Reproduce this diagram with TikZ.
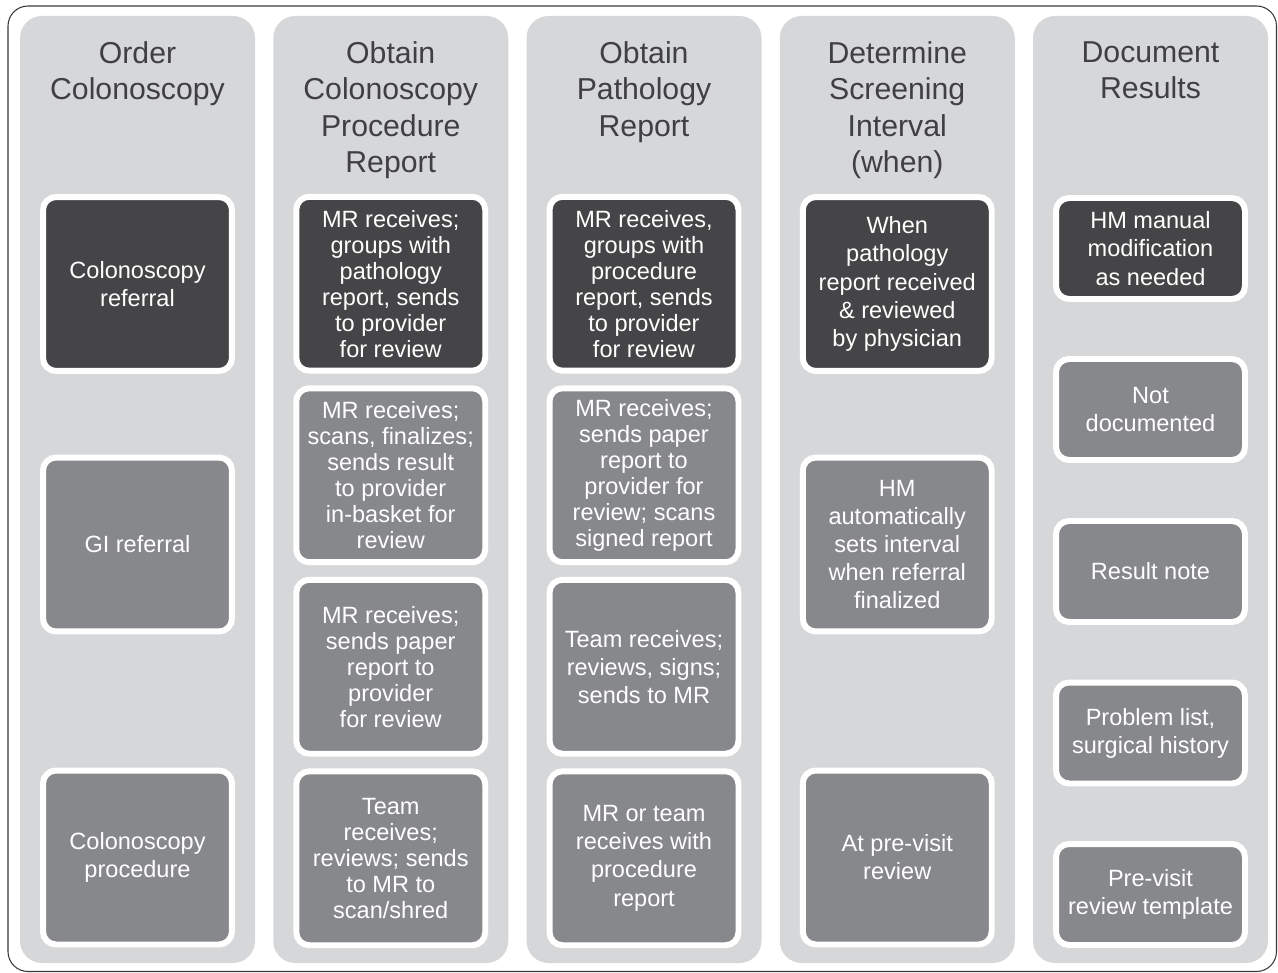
\documentclass[tikz,border=0pt]{standalone}
\usepackage{fontspec}
\setmainfont{Liberation Sans}
\usetikzlibrary{positioning}
\definecolor{lanegray}{HTML}{D6D7D9}
\definecolor{darkbox}{HTML}{454547}
\definecolor{midbox}{HTML}{87888B}
\definecolor{titlegray}{HTML}{404042}
\definecolor{framegray}{HTML}{3A3A3A}

\tikzset{
  lane/.style={fill=lanegray, rounded corners=0.44cm},
  lanetitle/.style={anchor=north, inner sep=0pt, align=center, text=titlegray,
    font=\fontsize{17.2}{20.8}\selectfont},
  stepbox/.style={draw=white, line width=3.4pt, rounded corners=0.26cm, text=white,
    align=center, minimum width=3.78cm, minimum height=3.48cm, inner sep=2pt,
    font=\fontsize{13.4}{16}\selectfont},
  darkbox/.style={stepbox, fill=darkbox},
  midbox/.style={stepbox, fill=midbox},
  dense/.style={font=\fontsize{13.4}{14.8}\selectfont},
  short/.style={minimum height=2.02cm}
}

\begin{document}
\begin{tikzpicture}[x=0.02cm, y=-0.02cm]
\useasboundingbox (0,0) rectangle (1278,973);
\draw[framegray, line width=0.6pt, rounded corners=0.4cm] (8,6) rectangle (1276.5,971.5);
% lanes
\foreach \c in {0,...,4}
    \fill[lane] ({20+253.25*\c},16) rectangle ++(235,947);

% lane titles
\node[lanetitle] (order) at (137.5,41) {Order\\Colonoscopy};
\node[lanetitle] (procrep) at (390.75,41) {Obtain\\Colonoscopy\\Procedure\\Report};
\node[lanetitle] (pathrep) at (644,41) {Obtain\\Pathology\\Report};
\node[lanetitle] (interval) at (897.25,41) {Determine\\Screening\\Interval\\(when)};
\node[lanetitle] (docres) at (1150.5,41) {Document\\Results};

% order colonoscopy
\node[darkbox] (ord1) at (137.5,284) {Colonoscopy\\referral};
\node[midbox] (ord2) at (137.5,544.5) {GI referral};
\node[midbox] (ord3) at (137.5,857.5) {Colonoscopy\\procedure};

% procedure report
\node[darkbox, dense] (proc1) at (390.75,283.75) {MR receives;\\groups with\\pathology\\report, sends\\to provider\\for review};
\node[midbox, dense] (proc2) at (390.75,475.25) {MR receives;\\scans, finalizes;\\sends result\\to provider\\in-basket for\\review};
\node[midbox, dense] (proc3) at (390.75,666.75) {MR receives;\\sends paper\\report to\\provider\\for review};
\node[midbox, dense] (proc4) at (390.75,858.25) {Team\\receives;\\reviews; sends\\to MR to\\scan/shred};

% pathology report
\node[darkbox, dense] (path1) at (644,283.75) {MR receives,\\groups with\\procedure\\report, sends\\to provider\\for review};
\node[midbox, dense] (path2) at (644,475.25) {MR receives;\\sends paper\\report to\\provider for\\review; scans\\signed report};
\node[midbox] (path3) at (644,666.75) {Team receives;\\reviews, signs;\\sends to MR};
\node[midbox] (path4) at (644,858.25) {MR or team\\receives with\\procedure\\report};

% screening interval
\node[darkbox] (int1) at (897.25,284) {When\\pathology\\report received\\\& reviewed\\by physician};
\node[midbox] (int2) at (897.25,544.5) {HM\\automatically\\sets interval\\when referral\\finalized};
\node[midbox] (int3) at (897.25,857.5) {At pre-visit\\review};

% document results
\node[darkbox, short] (doc1) at (1150.5,248.5) {HM manual\\modification\\as needed};
\node[midbox, short] (doc2) at (1150.5,409.5) {Not\\documented};
\node[midbox, short] (doc3) at (1150.5,571.5) {Result note};
\node[midbox, short] (doc4) at (1150.5,733) {Problem list,\\surgical history};
\node[midbox, short] (doc5) at (1150.5,894.5) {Pre-visit\\review template};
\end{tikzpicture}
\end{document}
